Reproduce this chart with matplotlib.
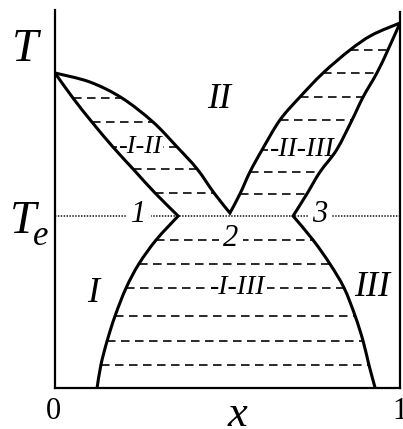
import numpy as np
import matplotlib
matplotlib.use("Agg")
import matplotlib.pyplot as plt
from matplotlib.path import Path
from matplotlib.patches import PathPatch

# Phase boundaries: composition x (0..1) and temperature T (arbitrary units)
liq_left_x = [0.000, 0.101, 0.194, 0.284, 0.354, 0.412, 0.461, 0.507]
liq_left_T = [315, 306, 290, 266, 241, 219, 195, 175]

liq_right_x = [0.507, 0.536, 0.565, 0.600, 0.652, 0.710, 0.777, 0.855, 0.919, 1.000]
liq_right_T = [175, 194, 216, 238, 268, 291, 315, 338, 353, 365]

sol_left_x = [0.000, 0.052, 0.107, 0.168, 0.229, 0.290, 0.357]
sol_left_T = [315, 290, 266, 241, 218, 195, 172]

sol_right_x = [1.000, 0.965, 0.933, 0.893, 0.861, 0.816, 0.768, 0.730, 0.690]
sol_right_T = [365, 338, 315, 291, 268, 238, 216, 194, 172]

solv_left_x = [0.357, 0.293, 0.243, 0.206, 0.174, 0.151, 0.133, 0.122]
solv_left_T = [172, 148, 124, 100, 72, 47, 23, 0]

solv_right_x = [0.690, 0.748, 0.797, 0.838, 0.870, 0.893, 0.910, 0.928]
solv_right_T = [172, 148, 124, 100, 72, 47, 23, 0]

T_eutectic = 172
T_top = 378

# Tie-line temperatures in each two-phase field
ties_I_II = [290, 266, 241, 219, 195]
ties_II_III = [338, 315, 291, 268, 238, 216, 194]
ties_I_III = [148, 124, 100, 72, 47, 23]

W, H = 403, 429
fig = plt.figure(figsize=(W / 100, H / 100), dpi=100)
ax = fig.add_axes([55 / W, 41 / H, 345 / W, 378 / H])
ax.set_xlim(0, 1)
ax.set_ylim(0, T_top)
ax.set_xticks([])
ax.set_yticks([])
ax.spines["top"].set_visible(False)
for s in ("left", "bottom", "right"):
    ax.spines[s].set_linewidth(1.6)
ax.spines["right"].set_bounds(0, T_top - 2)

serif = "Liberation Serif"
tie_kw = dict(color="#2a2a2a", lw=1.4, dashes=(4.4, 2.8), zorder=1)


def smooth_segments(xs, ys):
    """Cubic Bezier pieces (Catmull-Rom tangents) passing through the given points."""
    p = np.column_stack([xs, ys]).astype(float)
    ext = np.vstack([p[0], p, p[-1]])
    verts, codes = [], []
    for i in range(len(p) - 1):
        p0, p1, p2, p3 = ext[i], ext[i + 1], ext[i + 2], ext[i + 3]
        c1 = p1 + (p2 - p0) / 6.0
        c2 = p2 - (p3 - p1) / 6.0
        verts += [c1, c2, p2]
        codes += [Path.CURVE4] * 3
    return verts, codes


def boundary(*pieces):
    """One stroked path made of several smooth pieces joined at sharp corners."""
    verts = [np.array([pieces[0][0][0], pieces[0][1][0]], float)]
    codes = [Path.MOVETO]
    for xs, ys in pieces:
        v, c = smooth_segments(xs, ys)
        verts += v
        codes += c
    path = Path(np.array(verts), codes)
    ax.add_patch(PathPatch(path, facecolor="none", edgecolor="black", lw=2.2,
                           joinstyle="miter", capstyle="butt", zorder=4))


def x_at(T, xs, Ts):
    Ts = np.asarray(Ts, float)
    xs = np.asarray(xs, float)
    order = np.argsort(Ts)
    return np.interp(T, Ts[order], xs[order])


# tie lines
for T in ties_I_II:
    ax.plot([x_at(T, sol_left_x, sol_left_T), x_at(T, liq_left_x, liq_left_T)], [T, T], **tie_kw)
for T in ties_II_III:
    ax.plot([x_at(T, liq_right_x, liq_right_T), x_at(T, sol_right_x, sol_right_T)], [T, T], **tie_kw)
for T in ties_I_III:
    ax.plot([x_at(T, solv_left_x, solv_left_T), x_at(T, solv_right_x, solv_right_T)], [T, T], **tie_kw)

# eutectic isotherm
ax.plot([0, 1], [T_eutectic, T_eutectic], color="#333333", lw=1.3,
        linestyle=(0, (0.8, 0.8)), zorder=1)

# boundaries
boundary((liq_left_x, liq_left_T), (liq_right_x, liq_right_T))
boundary((sol_left_x, sol_left_T), (solv_left_x, solv_left_T))
boundary((sol_right_x, sol_right_T), (solv_right_x, solv_right_T))


def px(x, y):
    return (x - 55) / 345, (388 - y)


box = dict(facecolor="white", edgecolor="none", pad=1.0)
lab = dict(family=serif, style="italic", ha="center", va="center", zorder=3)
ax.text(*px(140, 147), "-I-II", fontsize=19, bbox=box, **lab)
ax.text(*px(302, 149), "-II-III", fontsize=20, bbox=box, **lab)
ax.text(*px(238, 288), "-I-III", fontsize=20, bbox=box, **lab)
ax.text(*px(219, 99), "II", fontsize=26, **lab)
ax.text(*px(93, 294), "I", fontsize=26, **lab)
ax.text(*px(372, 287), "III", fontsize=26, **lab)
nb = dict(facecolor="white", edgecolor="none", pad=3)
ax.text(*px(139, 214), "1", fontsize=22, bbox=nb, **lab)
ax.text(*px(320, 215), "3", fontsize=22, bbox=nb, **lab)
ax.text(*px(231, 238), "2", fontsize=22, bbox=nb, **lab)

# axis titles and end labels
fig.text(25 / W, 1 - 61 / H, "T", family=serif, style="italic", fontsize=34, ha="center", va="baseline")
fig.text(23 / W, 1 - 233 / H, "T", family=serif, style="italic", fontsize=34, ha="center", va="baseline")
fig.text(41 / W, 1 - 245 / H, "e", family=serif, style="italic", fontsize=25, ha="center", va="baseline")
fig.text(53 / W, 1 - 419 / H, "0", family=serif, fontsize=22, ha="center", va="baseline")
fig.text(400 / W, 1 - 419 / H, "1", family=serif, fontsize=22, ha="center", va="baseline")
fig.text(237 / W, 1 - 426 / H, "x", family=serif, style="italic", fontsize=32, ha="center", va="baseline")

fig.savefig("out.png", dpi=100)
